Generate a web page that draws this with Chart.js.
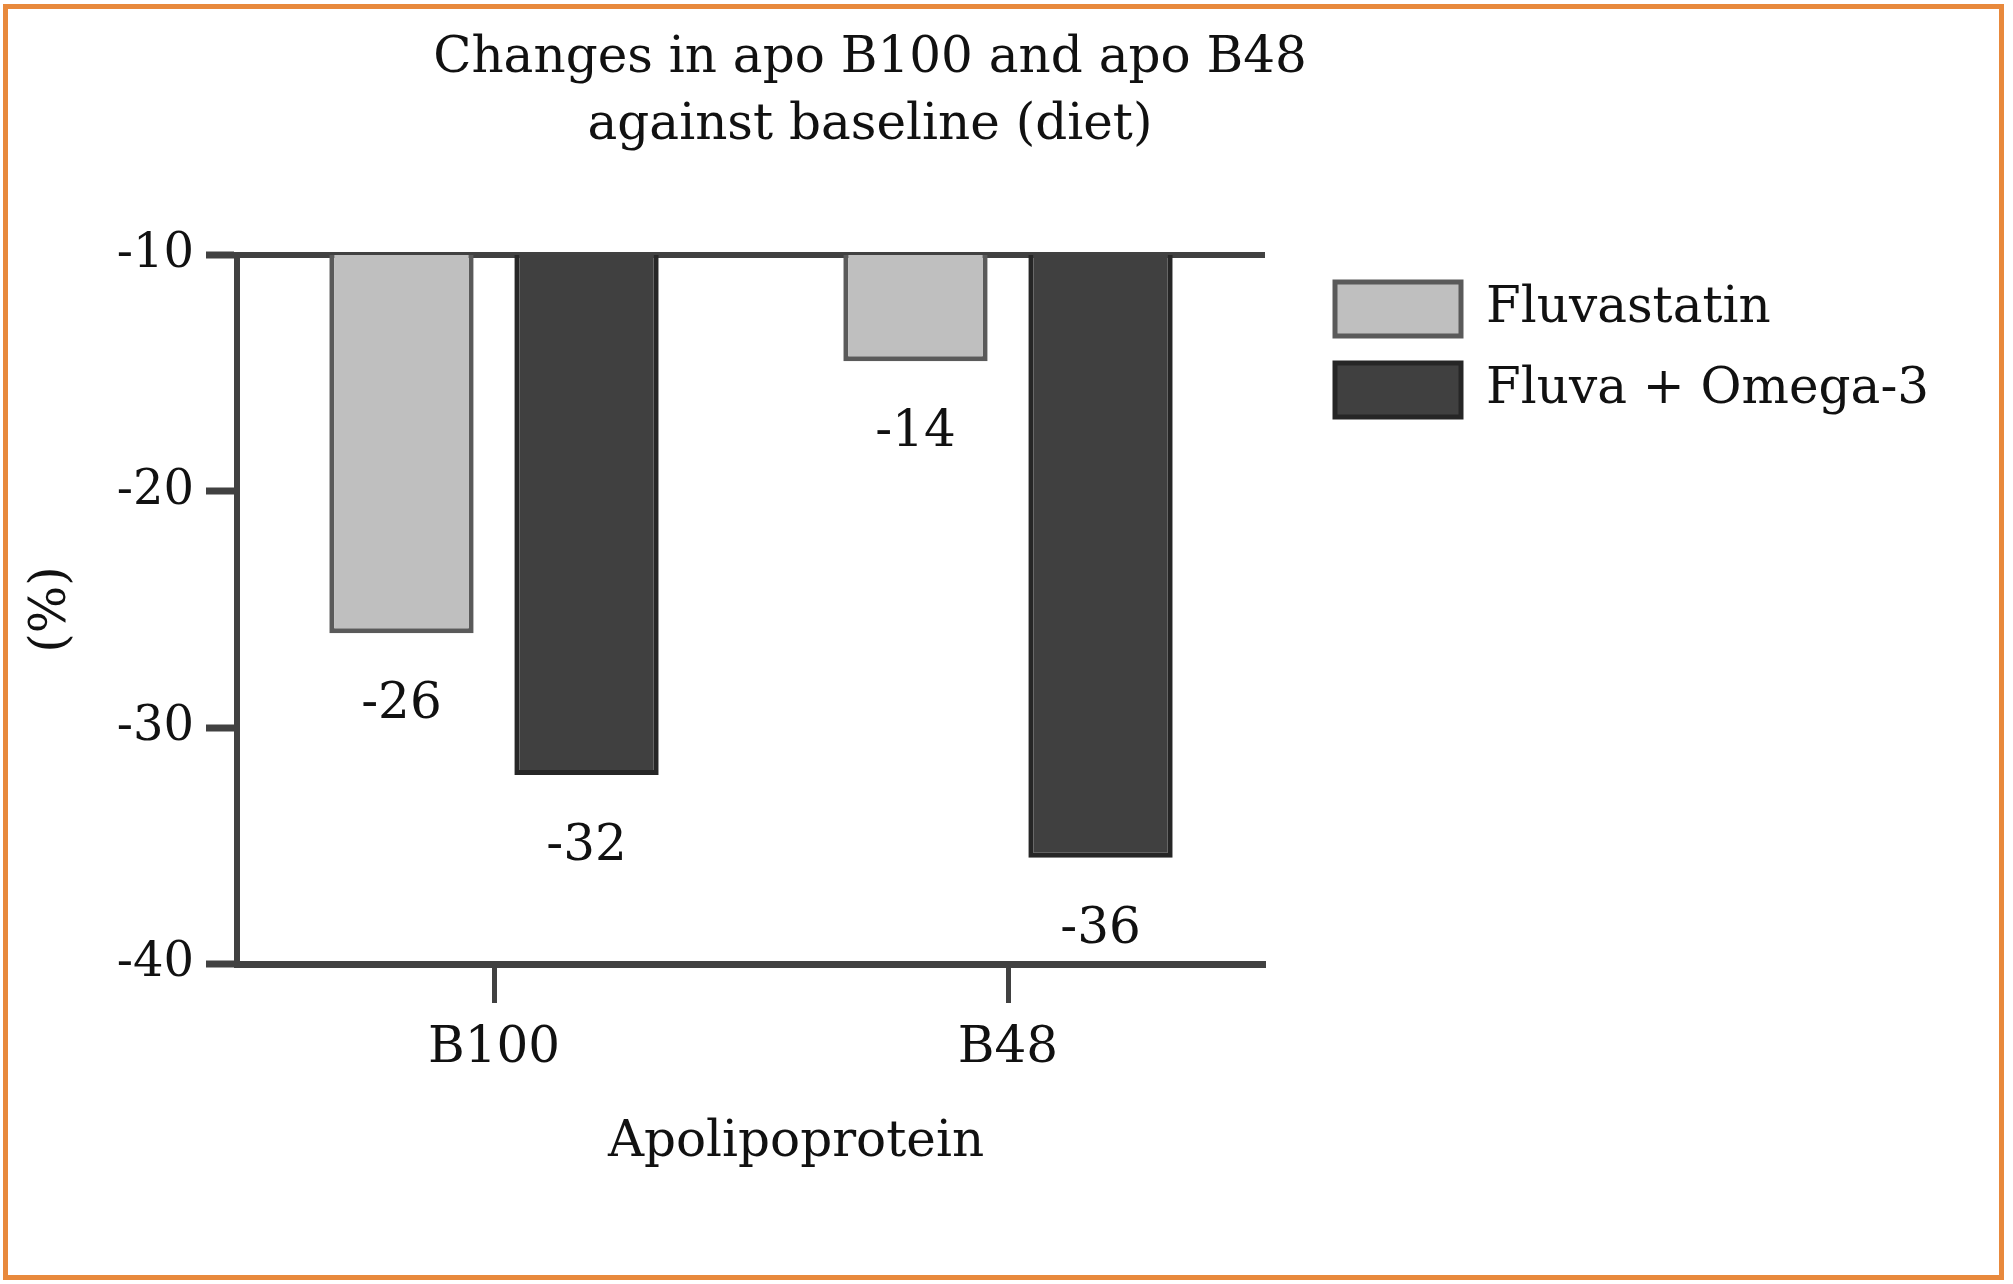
<!DOCTYPE html>
<html>
<head>
<meta charset="utf-8">
<script src="https://cdn.jsdelivr.net/npm/chart.js@4.4.1/dist/chart.umd.min.js"></script>
<style>
  html, body { margin: 0; padding: 0; background: #fff; }
  #frame { position: absolute; left: 3px; top: 4px; width: 1991px; height: 1266px; border: 5px solid #E8893C; }
  canvas { display: block; }
</style>
</head>
<body>
<div id="frame"><canvas id="chart" width="1991" height="1266"></canvas></div>
<script>
const categories = ['B100', 'B48'];
const seriesNames = ['Fluvastatin', 'Fluva + Omega-3'];
const fluvastatin = [-26, -14.5];
const fluvaOmega = [-32, -35.5];
const fluvastatinLabels = ['-26', '-14'];
const fluvaOmegaLabels = ['-32', '-36'];
const yTicks = [-10, -20, -30, -40];
const titleLines = ['Changes in apo B100 and apo B48', 'against baseline (diet)'];
const xTitle = 'Apolipoprotein';

const AXIS = '#414141';
const TEXT = '#111';
const FONT = 'DejaVu Serif';
const SIZE = 50;
const TICK_SIZE = 48;

// legend sits 43px right of the plot, so work out how much room it needs
const m = document.createElement('canvas').getContext('2d');
m.font = `${SIZE}px "${FONT}"`;
const legendTextW = Math.max(...seriesNames.map(t => m.measureText(t).width));
const legendW = 27 + 126 + SIZE / 2 + legendTextW + 10;
const padRight = Math.max(0, 1991 - 1257 - 43 - legendW);

// title and x title are off-centre in the original, so place them by hand
const looseText = {
  id: 'looseText',
  afterDraw(chart) {
    const ctx = chart.ctx;
    ctx.save();
    ctx.font = `${SIZE}px "${FONT}"`;
    ctx.fillStyle = TEXT;
    ctx.textAlign = 'center';
    ctx.textBaseline = 'middle';
    ctx.fillText(titleLines[0], 862, 50);
    ctx.fillText(titleLines[1], 862, 117);
    ctx.fillText(xTitle, 788, 1134);
    ctx.restore();
  }
};

const barValueLabels = {
  id: 'barValueLabels',
  afterDatasetsDraw(chart) {
    const ctx = chart.ctx;
    ctx.save();
    ctx.font = `${SIZE}px "${FONT}"`;
    ctx.fillStyle = TEXT;
    ctx.textAlign = 'center';
    ctx.textBaseline = 'middle';
    chart.data.datasets.forEach((ds, i) => {
      chart.getDatasetMeta(i).data.forEach((bar, j) => {
        ctx.fillText(ds.valueLabels[j], bar.x, bar.y + 72);
      });
    });
    ctx.restore();
  }
};

new Chart(document.getElementById('chart'), {
  type: 'bar',
  data: {
    labels: categories,
    datasets: [{
      label: seriesNames[0],
      data: fluvastatin,
      valueLabels: fluvastatinLabels,
      backgroundColor: '#BFBFBF',
      borderColor: '#5A5A5A',
      borderWidth: 5
    }, {
      label: seriesNames[1],
      data: fluvaOmega,
      valueLabels: fluvaOmegaLabels,
      backgroundColor: '#404040',
      borderColor: '#262626',
      borderWidth: 5
    }]
  },
  options: {
    responsive: false,
    animation: false,
    categoryPercentage: 0.72,
    barPercentage: 0.78,
    layout: { padding: { top: 246, right: padRight, bottom: 0, left: 0 } },
    plugins: {
      title: { display: false },
      tooltip: { enabled: false },
      legend: {
        position: 'right',
        align: 'start',
        maxWidth: 1000,
        labels: {
          boxWidth: 126,
          boxHeight: 54,
          padding: 27,
          color: TEXT,
          font: { family: FONT, size: SIZE }
        }
      }
    },
    scales: {
      x: {
        grid: {
          display: true,
          drawOnChartArea: false,
          offset: false,
          tickLength: 39,
          tickWidth: 5,
          tickColor: AXIS,
          color: AXIS
        },
        border: { color: AXIS, width: 7 },
        ticks: { color: TEXT, padding: 16, font: { family: FONT, size: SIZE } },
        title: { display: false },
        afterFit(s) { s.height = 311; }
      },
      y: {
        min: -40,
        max: -10,
        afterBuildTicks(s) { s.ticks = yTicks.map(v => ({ value: v })); },
        grid: {
          drawOnChartArea: true,
          color: c => (c.tick && c.tick.value === -10 ? AXIS : 'rgba(0,0,0,0)'),
          lineWidth: 6,
          tickLength: 31,
          tickWidth: 7,
          tickColor: AXIS
        },
        border: { color: AXIS, width: 6 },
        ticks: { color: TEXT, padding: 12, font: { family: FONT, size: TICK_SIZE } },
        title: {
          display: true,
          text: '(%)',
          color: TEXT,
          font: { family: FONT, size: SIZE },
          padding: { top: 14, bottom: 0 }
        },
        afterFit(s) { s.width = 229; }
      },
      gap: {
        type: 'linear',
        position: 'right',
        display: true,
        grid: { display: false },
        border: { display: false },
        ticks: { display: false },
        afterFit(s) { s.width = 43; }
      }
    }
  },
  plugins: [looseText, barValueLabels]
});
</script>
</body>
</html>
